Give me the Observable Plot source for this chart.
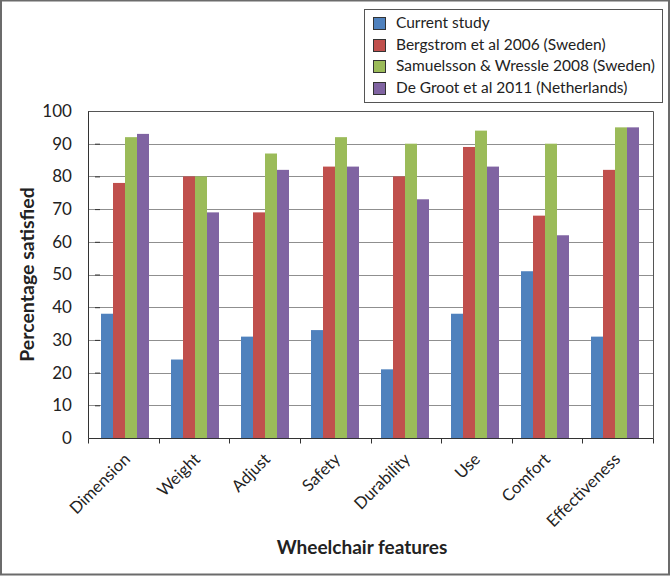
<!DOCTYPE html>
<html>
<head>
<meta charset="utf-8">
<script src="https://cdn.jsdelivr.net/npm/d3@7"></script>
<script src="https://cdn.jsdelivr.net/npm/@observablehq/plot@0.6"></script>
<style>
  html, body { margin: 0; padding: 0; background: #fff; }
  svg { display: block; }
</style>
</head>
<body>
<div id="chart"></div>
<script>
const categories = ["Dimension","Weight","Adjust","Safety","Durability","Use","Comfort","Effectiveness"];
const series = ["Current study","Bergstrom et al 2006 (Sweden)","Samuelsson & Wressle 2008 (Sweden)","De Groot et al 2011 (Netherlands)"];
const currentStudy = [38,24,31,33,21,38,51,31];
const bergstrom = [78,80,69,83,80,89,68,82];
const samuelsson = [92,80,87,92,90,94,90,95];
const deGroot = [93,69,82,83,73,83,62,95];
const yTicks = [0,10,20,30,40,50,60,70,80,90,100];
const colors = ["#4F81BD","#C0504D","#9BBB59","#8064A2"];
const yTitle = "Percentage satisfied";
const xTitle = "Wheelchair features";

const seriesValues = [currentStudy, bergstrom, samuelsson, deGroot];
const data = categories.flatMap((c, i) => series.map((s, j) => ({category: c, series: s, value: seriesValues[j][i]})));

const W = 670, H = 577;
const chart = Plot.plot({
  width: W, height: H,
  marginTop: 111, marginRight: 17, marginBottom: 139, marginLeft: 88,
  style: {fontFamily: "Lato, 'Open Sans', sans-serif", background: "white", color: "#222", overflow: "visible"},
  fx: {domain: categories, paddingInner: 0.28, paddingOuter: 0.14, label: null},
  x: {domain: series, axis: null, padding: 0},
  y: {domain: [0, 100]},
  color: {domain: series, range: colors},
  marks: [
    Plot.barY(data, {fx: "category", x: "series", y: "value", fill: "series", inset: 0}),
    Plot.axisY({ticks: yTicks, tickSize: 5, fontSize: 17, label: null, tickFormat: d => String(d), stroke: "#333"}),
    Plot.axisFx({anchor: "bottom", tickRotate: -45, tickSize: 0, tickPadding: 14, dx: 2, dy: 4, fontSize: 16.5, label: null})
  ]
});
document.getElementById("chart").appendChild(chart);

const svg = d3.select(chart);
const ys = chart.scale("y");
const fxs = chart.scale("fx");
const band = d3.scaleBand(fxs.domain, fxs.range)
  .paddingInner(fxs.paddingInner).paddingOuter(fxs.paddingOuter).align(fxs.align ?? 0.5);
const step = band.step();
const x0 = fxs.range[0], x1 = fxs.range[1];
const yBottom = ys.apply(0), yTop = ys.apply(100);
const px = v => Math.round(v) + 0.5;

// move y tick labels so they end 16px left of the axis
const yLabel = Array.from(chart.querySelectorAll("text")).find(t => t.textContent === String(yTicks[yTicks.length - 1]));
if (yLabel) {
  const g = yLabel.parentNode;
  const shift = (x0 - 16) - yLabel.getBoundingClientRect().right;
  g.setAttribute("transform", `translate(${shift},0) ` + (g.getAttribute("transform") || ""));
}

// gridlines behind bars
const grid = svg.insert("g", ":first-child").attr("stroke", "#8f8f8f").attr("stroke-width", 1);
yTicks.filter(t => t > 0 && t < 100).forEach(t => {
  grid.append("line").attr("x1", x0).attr("x2", x1).attr("y1", px(ys.apply(t))).attr("y2", px(ys.apply(t)));
});

// plot-area border (top/right) and axes
const over = svg.append("g");
over.append("line").attr("x1", x0).attr("x2", px(x1)).attr("y1", px(yTop)).attr("y2", px(yTop)).attr("stroke", "#555");
over.append("line").attr("x1", px(x1)).attr("x2", px(x1)).attr("y1", px(yTop)).attr("y2", px(yBottom)).attr("stroke", "#555");
over.append("line").attr("x1", px(x0)).attr("x2", px(x0)).attr("y1", px(yTop)).attr("y2", px(yBottom)).attr("stroke", "#333");
over.append("line").attr("x1", px(x0)).attr("x2", px(x1)).attr("y1", px(yBottom)).attr("y2", px(yBottom)).attr("stroke", "#333");
const bounds = categories.map(c => band(c) - (step - band.bandwidth()) / 2);
bounds.push(bounds[bounds.length - 1] + step);
bounds.forEach(b => {
  over.append("line").attr("x1", px(b)).attr("x2", px(b)).attr("y1", px(yBottom)).attr("y2", px(yBottom) + 5).attr("stroke", "#333");
});

// axis titles
svg.append("text").attr("x", 362).attr("y", 554).attr("text-anchor", "middle")
  .attr("font-family", "Lato, sans-serif").attr("font-weight", "bold").attr("font-size", 19).attr("fill", "#222")
  .text(xTitle);
svg.append("text").attr("transform", `translate(34,${(yTop + yBottom) / 2}) rotate(-90)`).attr("text-anchor", "middle")
  .attr("font-family", "Lato, sans-serif").attr("font-weight", "bold").attr("font-size", 19.5).attr("fill", "#222")
  .text(yTitle);

// legend
const lg = svg.append("g").attr("font-family", "Lato, sans-serif").attr("font-size", 15.5).attr("fill", "#222")
  .attr("text-anchor", "start");
lg.append("rect").attr("x", 364.5).attr("y", 9.5).attr("width", 298).attr("height", 93)
  .attr("fill", "white").attr("stroke", "#555");
series.forEach((s, i) => {
  const cy = 23 + i * 21.5;
  lg.append("rect").attr("x", 373.5).attr("y", Math.round(cy - 6) + 0.5).attr("width", 12).attr("height", 12)
    .attr("fill", colors[i]).attr("stroke", "#333");
  lg.append("text").attr("x", 396).attr("y", cy).attr("dy", "0.35em").attr("text-anchor", "start").text(s);
});

// outer border
svg.append("rect").attr("x", 1).attr("y", 0.5).attr("width", W - 2).attr("height", H - 3)
  .attr("fill", "none").attr("stroke", "#6b6b6b").attr("stroke-width", 2);
</script>
</body>
</html>
